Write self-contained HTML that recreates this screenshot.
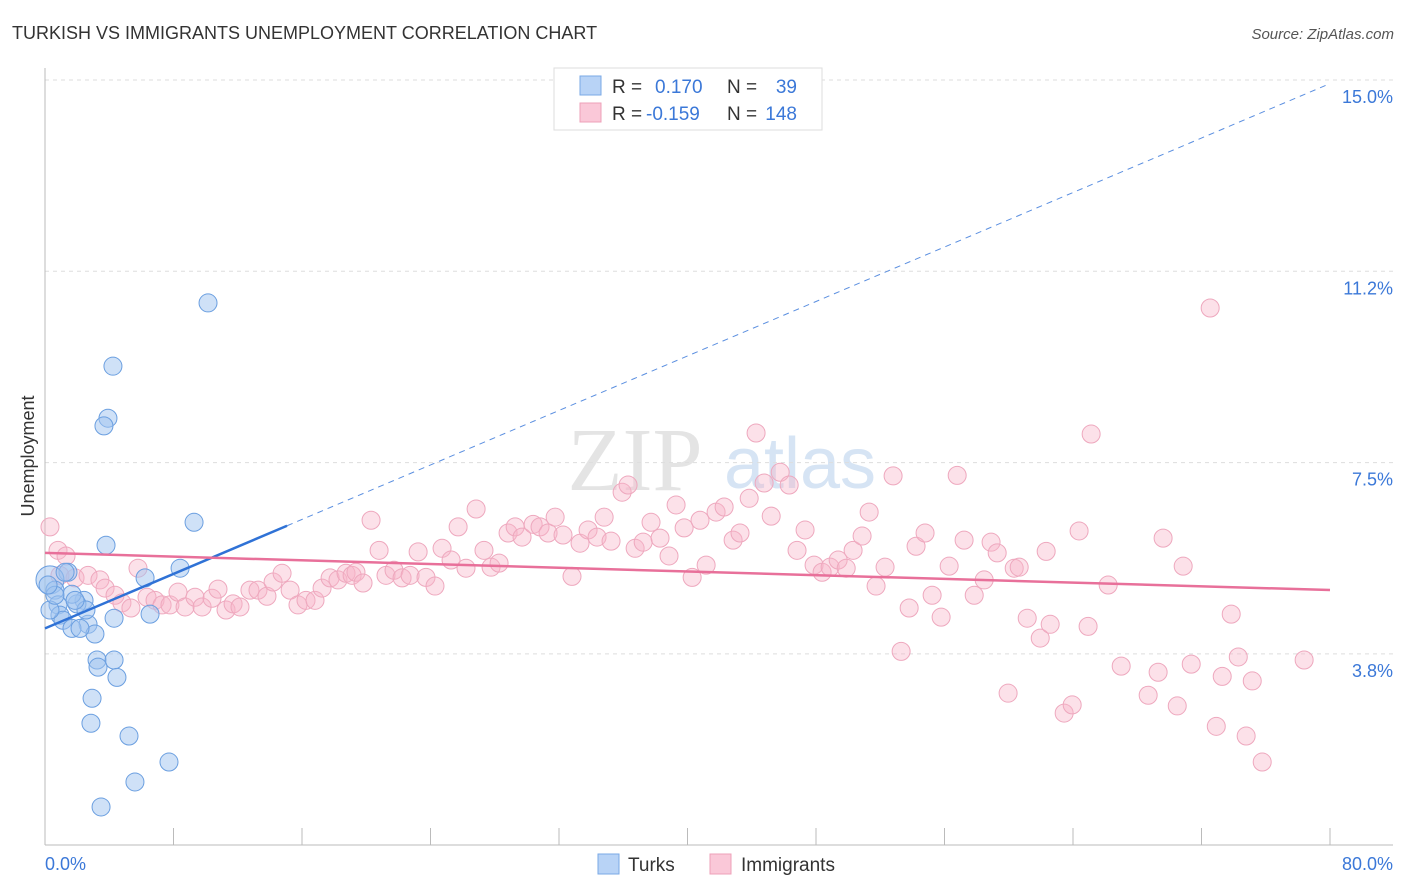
<!DOCTYPE html>
<html><head><meta charset="utf-8"><style>
body{margin:0;background:#fff;font-family:"Liberation Sans",sans-serif;}
svg{display:block}
</style></head><body>
<svg id="chart" width="1406" height="892">
<text x="12" y="39" font-size="18" fill="#333">TURKISH VS IMMIGRANTS UNEMPLOYMENT CORRELATION CHART</text>
<text x="1394" y="39" font-size="15" fill="#555" font-style="italic" text-anchor="end">Source: ZipAtlas.com</text>
<g><text x="635" y="490" font-size="90" fill="#e4e4e4" font-family="Liberation Serif" text-anchor="middle">ZIP</text><text x="800" y="488" font-size="72" fill="#d6e4f4" text-anchor="middle">atlas</text></g>
<g id="grid"></g>
<line x1="45" y1="68" x2="45" y2="845" stroke="#bbb"/>
<line x1="45" y1="845" x2="1393" y2="845" stroke="#bbb"/>
<g id="xticks"></g>
<text transform="translate(34,456) rotate(-90)" font-size="18" fill="#333" text-anchor="middle">Unemployment</text>
<text x="45" y="870" font-size="18" fill="#3b78d8">0.0%</text>
<text x="1393" y="870" font-size="18" fill="#3b78d8" text-anchor="end">80.0%</text>
<g id="pts"></g>
<g id="lines"></g>
<g>
<rect x="554" y="68" width="268" height="62" fill="#fff" stroke="#ddd"/>
<rect x="580" y="76" width="21" height="19" fill="#b8d3f6" stroke="#7aa8e6"/>
<rect x="580" y="103" width="21" height="19" fill="#fac8d8" stroke="#eea0b8"/>
<text x="612" y="93" font-size="19" fill="#333">R =</text><text x="655" y="93" font-size="19" fill="#3b78d8">0.170</text>
<text x="727" y="93" font-size="19" fill="#333">N =</text><text x="797" y="93" font-size="19" fill="#3b78d8" text-anchor="end">39</text>
<text x="612" y="120" font-size="19" fill="#333">R =</text><text x="646" y="120" font-size="19" fill="#3b78d8">-0.159</text>
<text x="727" y="120" font-size="19" fill="#333">N =</text><text x="797" y="120" font-size="19" fill="#3b78d8" text-anchor="end">148</text>
</g>
<g>
<rect x="598" y="854" width="21" height="20" fill="#b8d3f6" stroke="#7aa8e6"/>
<text x="628" y="871" font-size="19" fill="#333">Turks</text>
<rect x="710" y="854" width="21" height="20" fill="#fac8d8" stroke="#eea0b8"/>
<text x="741" y="871" font-size="19" fill="#333">Immigrants</text>
</g>
</svg>
<script>
const yTicks=[15.0,11.25,7.5,3.75];
const yTickLabels=["15.0%","11.2%","7.5%","3.8%"];
const xTickVals=[0,8,16,24,32,40,48,56,64,72,80];
const turksX=[10.15,4.23,3.92,3.67,9.28,3.80,8.41,1.43,6.23,0.31,0.62,0.81,2.43,1.99,1.68,0.93,1.12,2.68,1.68,3.11,4.30,6.54,3.24,4.30,3.30,4.48,2.93,2.86,5.23,7.72,5.60,3.49,0.31,2.18,0.62,1.25,0.19,2.55,1.87];
const turksY=[10.63,9.39,8.37,8.22,6.33,5.88,5.43,5.35,5.24,5.20,5.00,4.71,4.80,4.73,4.92,4.51,4.41,4.33,4.25,4.14,4.45,4.53,3.63,3.63,3.49,3.29,2.88,2.39,2.14,1.63,1.24,0.75,4.61,4.25,4.90,5.35,5.10,4.61,4.80];
const immX=[0.31,0.81,1.31,0.93,1.87,2.68,3.42,3.74,4.36,4.79,5.35,5.79,6.35,6.85,7.29,7.78,8.28,8.72,9.34,9.78,10.40,10.77,11.27,11.71,12.14,12.76,13.26,13.82,14.20,14.76,15.26,15.75,16.25,16.81,17.25,17.75,18.24,18.74,19.12,19.36,19.80,20.30,20.80,21.23,21.73,22.23,22.73,23.23,23.72,24.28,24.72,25.28,25.72,26.21,26.84,27.33,27.77,28.27,28.83,29.27,29.70,30.39,30.82,31.32,31.76,32.25,32.81,33.31,33.81,34.37,34.81,35.24,35.93,36.30,36.74,37.24,37.73,38.29,38.85,39.29,39.79,40.29,40.78,41.16,41.78,42.28,42.84,43.27,43.84,44.27,44.77,45.21,45.77,46.33,46.82,47.32,47.88,48.38,48.88,49.38,49.88,50.31,50.87,51.31,51.74,52.30,52.80,53.30,53.80,54.23,54.79,55.23,55.79,56.29,56.79,57.22,57.85,58.47,58.90,59.28,59.96,60.34,60.65,61.15,61.96,62.33,62.58,63.45,63.95,64.38,64.94,65.13,66.19,67.00,68.68,69.30,69.61,70.49,70.86,71.36,72.54,72.92,73.29,73.85,74.29,74.78,75.16,75.78,78.39];
const immY=[6.24,5.78,5.67,5.29,5.24,5.29,5.20,5.04,4.90,4.75,4.65,5.43,4.86,4.80,4.71,4.71,4.96,4.67,4.86,4.67,4.84,5.02,4.61,4.73,4.67,5.00,5.00,4.88,5.16,5.33,5.00,4.71,4.80,4.80,5.04,5.24,5.20,5.33,5.29,5.35,5.14,6.37,5.78,5.29,5.39,5.24,5.29,5.75,5.25,5.08,5.82,5.59,6.24,5.43,6.59,5.78,5.45,5.53,6.12,6.24,6.04,6.29,6.24,6.12,6.43,6.08,5.27,5.92,6.18,6.04,6.43,5.96,6.92,7.06,5.82,5.94,6.33,6.02,5.67,6.67,6.22,5.25,6.37,5.49,6.53,6.63,5.98,6.12,6.80,8.08,7.10,6.45,7.31,7.06,5.78,6.18,5.49,5.35,5.45,5.59,5.43,5.78,6.06,6.53,5.08,5.45,7.24,3.80,4.65,5.86,6.12,4.90,4.47,5.47,7.25,5.98,4.90,5.20,5.94,5.73,2.98,5.43,5.45,4.45,4.06,5.76,4.33,2.59,2.75,6.16,4.29,8.06,5.10,3.51,2.94,3.39,6.02,2.73,5.47,3.55,10.53,2.33,3.31,4.53,3.69,2.14,3.22,1.63,3.63];
const turksIntercept=4.25, turksSlope=0.1335, turksSolidEnd=15.07;
const immIntercept=5.73, immSlope=-0.0091;
const NS="http://www.w3.org/2000/svg";
function sx(v){return 45+v*(1285/80);}
function sy(v){return 80+(15-v)*(191.3/3.75);}
function mk(tag,attrs,parent){const e=document.createElementNS(NS,tag);for(const k in attrs)e.setAttribute(k,attrs[k]);parent.appendChild(e);return e;}
const grid=document.getElementById('grid');
yTicks.forEach((t,i)=>{
 const l=mk('line',{x1:45,x2:1393,y1:sy(t),y2:sy(t),stroke:'#ddd','stroke-dasharray':'4,4'},grid);
 
 
 const tx=mk('text',{x:1393,y:sy(t)+23,'font-size':18,fill:'#3b78d8','text-anchor':'end'},grid);
 tx.textContent=yTickLabels[i];
 
 
});
const xt=document.getElementById('xticks');
xTickVals.forEach(v=>{
 const l=mk('line',{x1:sx(v),x2:sx(v),y1:828,y2:845,stroke:'#bbb'},xt);
 
 
});
const pts=document.getElementById('pts');
immX.forEach((x,i)=>{
 const c=mk('circle',{cx:sx(x),cy:sy(immY[i]),r:9,fill:'rgba(248,180,200,0.4)',stroke:'#eea8be','stroke-width':1},pts);
 
 
});
turksX.forEach((x,i)=>{
 const c=mk('circle',{cx:sx(x),cy:sy(turksY[i]),r:(i===9?14:9),fill:'rgba(160,196,240,0.5)',stroke:'#6b9fe0','stroke-width':1},pts);
 
 
});
const lg=document.getElementById('lines');
const b1=mk('line',{x1:sx(0),y1:sy(turksIntercept),x2:sx(turksSolidEnd),y2:sy(turksIntercept+turksSlope*turksSolidEnd),stroke:'#2f72d6','stroke-width':2.5},lg);


const b2=mk('line',{x1:sx(turksSolidEnd),y1:sy(turksIntercept+turksSlope*turksSolidEnd),x2:sx(80),y2:sy(turksIntercept+turksSlope*80),stroke:'#5b8fe0','stroke-width':1,'stroke-dasharray':'6,5'},lg);


const p1=mk('line',{x1:sx(0),y1:sy(immIntercept),x2:sx(80),y2:sy(immIntercept+immSlope*80),stroke:'#e8709a','stroke-width':2.5},lg);


</script>
</body></html>
